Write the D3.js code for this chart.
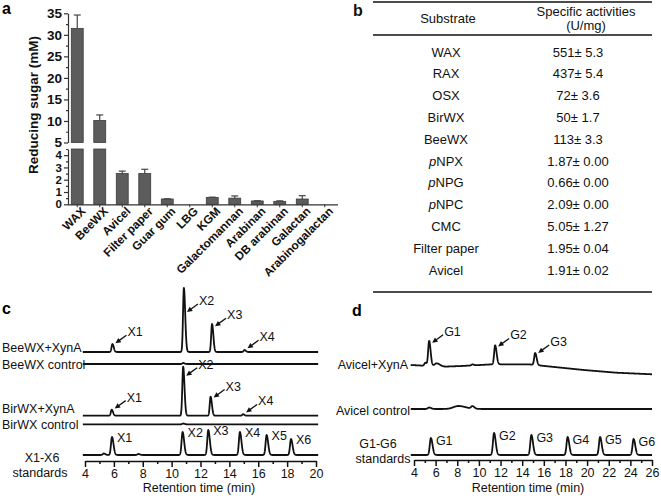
<!DOCTYPE html>
<html>
<head>
<meta charset="utf-8">
<script src="https://cdn.jsdelivr.net/npm/d3@7/dist/d3.min.js"></script>
<style>
body { margin: 0; background: #fff; }
svg { font-family: "Liberation Sans", Arial, sans-serif; }
</style>
</head>
<body>
<svg width="661" height="498"></svg>
<script>
// ---- panel a data ----
const substrates = ["WAX","BeeWX","Avicel","Filter paper","Guar gum","LBG","KGM","Galactomannan","Arabinan","DB arabinan","Galactan","Arabinogalactan"];
const sugar    = [31.5, 10.1, 2.5, 2.5, 0.43, 0, 0.56, 0.5, 0.27, 0.24, 0.43, 0];
const sugarErr = [3.1, 1.3, 0.2, 0.35, 0.02, 0, 0.02, 0.18, 0.02, 0.04, 0.27, 0];
const topTicks = [5, 10, 15, 20, 25, 30, 35];
const botTicks = [0, 1, 2, 3, 4];

// ---- panel b data ----
const tableSubstrates = ["WAX","RAX","OSX","BirWX","BeeWX","pNPX","pNPG","pNPC","CMC","Filter paper","Avicel"];
const activities = ["551± 5.3","437± 5.4","72± 3.6","50± 1.7","113± 3.3","1.87± 0.00","0.66± 0.00","2.09± 0.00","5.05± 1.27","1.95± 0.04","1.91± 0.02"];

// ---- panel c data: peaks [retention time, height, (width)] ----
const beeXynPeaks  = [[5.9, 8], [10.85, 64], [12.8, 28], [15.05, 2]];
const beeCtrlPeaks = [[10.8, 1]];
const birXynPeaks  = [[5.85, 6], [10.8, 49], [12.7, 19], [14.95, 1.5]];
const birCtrlPeaks = [[10.8, 0.8]];
const xStdPeaks    = [[5.3, 1.5], [5.87, 18], [7.7, 1], [10.76, 23], [12.54, 25], [14.73, 23], [16.58, 20], [18.27, 16]];
const xNames = ["X1","X2","X3","X4","X5","X6"];
const xStdTimes = [5.87, 10.76, 12.54, 14.73, 16.58, 18.27];

// ---- panel d data ----
const avXynPeaks  = [[5.05, 3], [5.4, 25], [6.1, 3, 0.2], [9.4, 1], [11.5, 19], [15.2, 12]];
const avXynLabeled = [5.4, 11.5, 15.2];
const avXynDriftT = [3.7, 6.7, 8.4, 11.3, 14.6, 16.7, 19.7, 22.7, 26];
const avXynDrift  = [1, -0.7, 0, 1.7, 1.7, -0.7, -4, -6.7, -8.3];
const avCtrlPeaks = [[5.4, 1.5], [8.1, 3, 0.45], [9.4, 2.5]];
const gNames = ["G1","G2","G3","G4","G5","G6"];
const gStdPeaks = [[5.56, 17], [11.4, 22], [14.85, 20], [18.2, 18], [21.2, 18], [24.3, 16]];

const svg = d3.select("svg");
const INK = "#111";

// ================= panel a =================
const ga = svg.append("g");
ga.append("text").attr("x", 2).attr("y", 14).attr("font-weight", "bold").attr("font-size", 16).text("a");

const xa = d3.scaleBand().domain(substrates).range([66, 336]).paddingInner(0.47).paddingOuter(0.235);
const yTop = d3.scaleLinear().domain([5, 35]).range([142.5, 13.3]);
const yBot = d3.scaleLinear().domain([0, 4.5]).range([204.3, 149]);
const barFill = "#5c5c5c", barLine = "#3a3a3a";

substrates.forEach((s, i) => {
  const v = sugar[i];
  if (v <= 0) return;
  const x = xa(s), w = xa.bandwidth();
  const lowTop = Math.min(v, 4.5);
  ga.append("rect").attr("x", x).attr("y", yBot(lowTop)).attr("width", w)
    .attr("height", yBot(0) - yBot(lowTop)).attr("fill", barFill).attr("stroke", barLine).attr("stroke-width", 0.8);
  if (v > 5) {
    ga.append("rect").attr("x", x).attr("y", yTop(v)).attr("width", w)
      .attr("height", yTop(5) - yTop(v)).attr("fill", barFill).attr("stroke", barLine).attr("stroke-width", 0.8);
  }
  const e = sugarErr[i];
  if (e > 0) {
    const ys = v > 5 ? yTop : yBot;
    const cx = x + w / 2;
    ga.append("line").attr("x1", cx).attr("x2", cx).attr("y1", ys(v)).attr("y2", ys(v + e)).attr("stroke", "#444").attr("stroke-width", 1.2);
    ga.append("line").attr("x1", cx - 3.5).attr("x2", cx + 3.5).attr("y1", ys(v + e)).attr("y2", ys(v + e)).attr("stroke", "#444").attr("stroke-width", 1.2);
  }
});

// broken y axis
const axTop = ga.append("g").attr("transform", "translate(68,0)")
  .call(d3.axisLeft(yTop).tickValues(topTicks).tickSize(4).tickSizeOuter(0).tickPadding(2).tickFormat(d3.format("d")));
ga.append("g").attr("transform", "translate(68,0)")
  .call(d3.axisLeft(yTop).tickValues(d3.range(7.5, 35, 5)).tickSize(2).tickFormat(""))
  .select(".domain").remove();
const axBot = ga.append("g").attr("transform", "translate(68,0)")
  .call(d3.axisLeft(yBot).tickValues(botTicks).tickSize(4).tickSizeOuter(0).tickPadding(2).tickFormat(d3.format("d")));
ga.append("g").attr("transform", "translate(68,0)")
  .call(d3.axisLeft(yBot).tickValues([0.5, 1.5, 2.5, 3.5, 4.5]).tickSize(2).tickFormat(""))
  .select(".domain").remove();
axTop.selectAll("text").attr("font-size", 13.5);
axBot.selectAll("text").attr("font-size", 11.5);
[axTop, axBot].forEach(a => a.selectAll("text").attr("font-weight", "bold")
  .attr("font-family", "Liberation Sans, Arial").attr("fill", INK));
ga.selectAll(".domain, .tick line").attr("stroke", "#333").attr("stroke-width", 1.2);

// x axis
const axX = ga.append("g").attr("transform", "translate(0,204.3)")
  .call(d3.axisBottom(xa).tickSize(3).tickSizeOuter(0).tickFormat(""));
axX.select(".domain").attr("d", "M68,0.5H338").attr("stroke", "#333").attr("stroke-width", 1.2);
axX.selectAll(".tick line").attr("stroke", "#333");
substrates.forEach(s => {
  ga.append("text")
    .attr("transform", `translate(${xa(s) + xa.bandwidth() / 2 + 3},206) rotate(-45)`)
    .attr("text-anchor", "end").attr("dy", "0.72em")
    .attr("font-size", 11.8).attr("font-weight", "bold").attr("fill", INK).text(s);
});

ga.append("text").attr("transform", "translate(38,105) rotate(-90)")
  .attr("text-anchor", "middle").attr("font-size", 13.5).attr("font-weight", "bold").attr("fill", INK)
  .text("Reducing sugar (mM)");

// ================= panel b =================
const gb = svg.append("g").attr("fill", INK);
gb.append("text").attr("x", 353).attr("y", 16).attr("font-weight", "bold").attr("font-size", 16).text("b");
[2, 35, 292].forEach(y => gb.append("line").attr("x1", 373).attr("x2", 652).attr("y1", y).attr("y2", y)
  .attr("stroke", INK).attr("stroke-width", 1.6));
gb.append("text").attr("x", 448).attr("y", 23).attr("text-anchor", "middle").attr("font-size", 13).text("Substrate");
gb.append("text").attr("x", 586).attr("y", 15.5).attr("text-anchor", "middle").attr("font-size", 13).text("Specific activities");
gb.append("text").attr("x", 586).attr("y", 30).attr("text-anchor", "middle").attr("font-size", 13).text("(U/mg)");
const rowY = d3.scalePoint().domain(tableSubstrates).range([52, 270]);
tableSubstrates.forEach((s, i) => {
  const t = gb.append("text").attr("x", 446).attr("y", rowY(s) + 4.5).attr("text-anchor", "middle").attr("font-size", 13);
  if (s.startsWith("pNP")) {
    t.append("tspan").attr("font-style", "italic").text("p");
    t.append("tspan").text(s.slice(1));
  } else t.text(s);
  gb.append("text").attr("x", 578).attr("y", rowY(s) + 4.5).attr("text-anchor", "middle").attr("font-size", 13).text(activities[i]);
});

// ================= chromatogram helpers =================
function trace(g, xs, t0, t1, base, peaks, sigma, drift) {
  const ts = d3.range(t0, t1 + 0.001, 0.01);
  const sig = d3.scaleLinear().domain([0, 100]).range([base, base - 100]);
  const line = d3.line().x(d => xs(d[0])).y(d => sig(d[1]));
  const pts = ts.map(t => {
    let v = drift ? drift(t) : 0;
    peaks.forEach(([p, h, w]) => {
      const sl = w || sigma;
      const s = t < p ? sl : sl * 1.5;
      v += h * Math.exp(-((t - p) ** 2) / (2 * s * s));
    });
    return [t, v];
  });
  g.append("path").attr("d", line(pts)).attr("fill", "none").attr("stroke", INK)
    .attr("stroke-width", 1.8).attr("stroke-linejoin", "round");
  return sig;
}
function arrowLabel(g, xs, sig, t, h, name) {
  const tipX = xs(t) + 3, tipY = sig(Math.min(h * 0.85 + 2, 40));
  const tailX = tipX + 11, tailY = tipY - 8;
  g.append("line").attr("x1", tailX).attr("y1", tailY).attr("x2", tipX + 2.5).attr("y2", tipY - 1.8)
    .attr("stroke", INK).attr("stroke-width", 1.3);
  const ang = Math.atan2(tipY - tailY, tipX - tailX);
  const a1 = ang + Math.PI - 0.45, a2 = ang + Math.PI + 0.45;
  g.append("path").attr("d", `M${tipX},${tipY}L${tipX + 6 * Math.cos(a1)},${tipY + 6 * Math.sin(a1)}L${tipX + 6 * Math.cos(a2)},${tipY + 6 * Math.sin(a2)}Z`)
    .attr("fill", INK);
  g.append("text").attr("x", tailX + 1).attr("y", tailY + 1).attr("font-size", 12.5).attr("fill", INK).text(name);
}
function timeAxis(g, xs, max, y) {
  const ax = g.append("g").attr("transform", `translate(0,${y})`)
    .call(d3.axisBottom(xs).tickValues(d3.range(4, max + 1, 2)).tickSize(6).tickSizeOuter(0).tickPadding(2));
  g.append("g").attr("transform", `translate(0,${y})`)
    .call(d3.axisBottom(xs).tickValues(d3.range(5, max, 2)).tickSize(3).tickFormat(""))
    .select(".domain").remove();
  g.selectAll(".domain, .tick line").attr("stroke", INK).attr("stroke-width", 1.5);
  ax.selectAll("text").attr("font-size", 12.5).attr("font-family", "Liberation Sans, Arial").attr("fill", INK);
}
function label(g, x, y, txt, anchor) {
  g.append("text").attr("x", x).attr("y", y).attr("text-anchor", anchor || "start")
    .attr("font-size", 12.5).attr("fill", INK).text(txt);
}

// ================= panel c =================
const gc = svg.append("g");
gc.append("text").attr("x", 2).attr("y", 314).attr("font-weight", "bold").attr("font-size", 16).text("c");
const xc = d3.scaleLinear().domain([4, 20]).range([85, 316]);

const s1 = trace(gc, xc, 3.85, 20.15, 352, beeXynPeaks, 0.06);
beeXynPeaks.forEach(([t, h], i) => arrowLabel(gc, xc, s1, t, h, xNames[i]));
trace(gc, xc, 3.85, 20.15, 364, beeCtrlPeaks, 0.06);
const s2 = trace(gc, xc, 3.85, 20.15, 415.7, birXynPeaks, 0.06);
birXynPeaks.forEach(([t, h], i) => arrowLabel(gc, xc, s2, t, h, xNames[i]));
trace(gc, xc, 3.85, 20.15, 424.3, birCtrlPeaks, 0.06);
const s3 = trace(gc, xc, 3.85, 20.15, 455, xStdPeaks, 0.07);
xStdTimes.forEach((t, i) => {
  const h = xStdPeaks.find(p => p[0] === t)[1];
  gc.append("text").attr("x", xc(t) + 5).attr("y", s3(h) + 5).attr("font-size", 12.5).attr("fill", INK).text(xNames[i]);
});
timeAxis(gc, xc, 20, 461);

label(gc, 2, 351.5, "BeeWX+XynA");
label(gc, 2, 368.5, "BeeWX control");
label(gc, 2, 412.5, "BirWX+XynA");
label(gc, 2, 429, "BirWX control");
label(gc, 42, 462, "X1-X6", "middle");
label(gc, 40, 476.5, "standards", "middle");
label(gc, 199, 491.5, "Retention time (min)", "middle");

// ================= panel d =================
const gd = svg.append("g");
gd.append("text").attr("x", 352).attr("y", 316).attr("font-weight", "bold").attr("font-size", 16).text("d");
const xd = d3.scaleLinear().domain([4, 26]).range([414, 652]);
const drift = d3.scaleLinear().domain(avXynDriftT).range(avXynDrift);

const d1 = trace(gd, xd, 3.7, 26, 366, avXynPeaks, 0.09, drift);
avXynLabeled.forEach((t, i) => {
  const h = avXynPeaks.find(p => p[0] === t)[1];
  arrowLabel(gd, xd, d1, t, h + drift(t), gNames[i]);
});
trace(gd, xd, 3.7, 26, 409, avCtrlPeaks, 0.12);
const d3s = trace(gd, xd, 3.7, 26, 455, gStdPeaks, 0.1);
gStdPeaks.forEach(([t, h], i) => {
  gd.append("text").attr("x", xd(t) + 5).attr("y", d3s(h) + 7).attr("font-size", 12.5).attr("fill", INK).text(gNames[i]);
});
timeAxis(gd, xd, 26, 460);

label(gd, 408, 368.5, "Avicel+XynA", "end");
label(gd, 410, 415, "Avicel control", "end");
label(gd, 378, 448, "G1-G6", "middle");
label(gd, 383, 462.5, "standards", "middle");
label(gd, 528, 491.5, "Retention time (min)", "middle");
</script>
</body>
</html>
